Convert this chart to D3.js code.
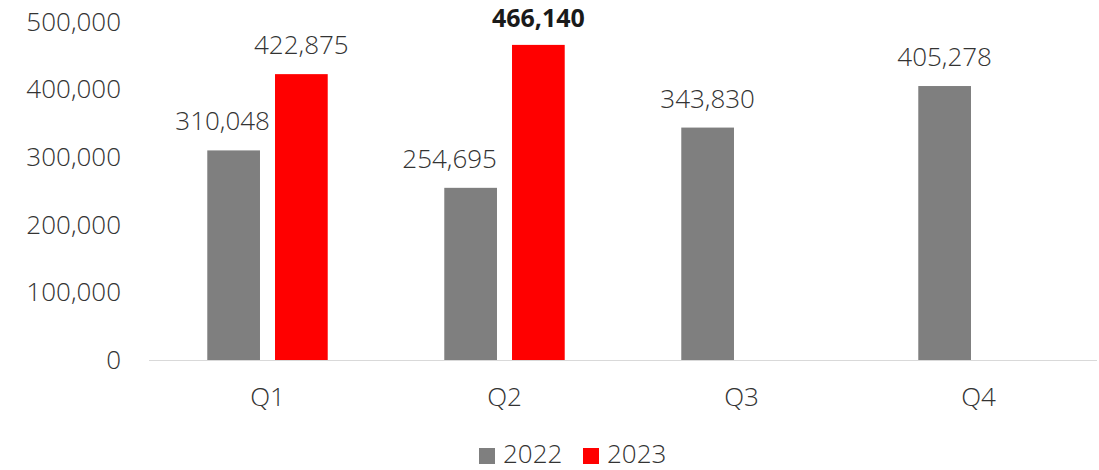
<!DOCTYPE html>
<html>
<head>
<meta charset="utf-8">
<script src="https://cdn.jsdelivr.net/npm/d3@7"></script>
<style>
  html, body { margin: 0; padding: 0; background: #fff; }
  svg { display: block; font-family: "Open Sans", "Segoe UI", sans-serif; }
</style>
</head>
<body>
<svg id="chart" width="1099" height="470"></svg>
<script>
// Quarterly totals by year
const quarters = ["Q1", "Q2", "Q3", "Q4"];
const years = ["2022", "2023"];
const values2022 = [310048, 254695, 343830, 405278];
const values2023 = [422875, 466140, null, null];
const yTicks = [0, 100000, 200000, 300000, 400000, 500000];
const seriesColors = ["#7f7f7f", "#ff0000"];

const series = [
  { year: years[0], values: values2022, color: seriesColors[0] },
  { year: years[1], values: values2023, color: seriesColors[1] }
];

const svg = d3.select("#chart");
const plot = { left: 149, right: 1097, top: 22, bottom: 360 };
const fontSize = "26px";
const fontWeight = 300;

const x = d3.scaleBand().domain(quarters).range([plot.left, plot.right]).padding(0);
const y = d3.scaleLinear().domain([0, 500000]).range([plot.bottom, plot.top]);

// Bars inside each quarter: two columns with a small gap, centred in the band
const barW = x.bandwidth() * 0.2224;
const gap = barW * 0.285;
const groupW = barW * 2 + gap;
const x1 = d3.scaleOrdinal().domain(years).range([0, barW + gap]);
const groupStart = q => x(q) + (x.bandwidth() - groupW) / 2;

const fmt = d3.format(",");
const textColor = "#333333";

// Y axis labels (no axis line, no ticks)
const yAxis = d3.axisLeft(y).tickValues(yTicks).tickFormat(fmt).tickSize(0).tickPadding(0);
const gy = svg.append("g").attr("transform", `translate(121,0)`).call(yAxis);
gy.select(".domain").remove();
gy.selectAll("text")
  .attr("fill", textColor)
  .style("font-size", fontSize)
  .style("font-weight", fontWeight)
  .style("font-family", "\"Open Sans\", sans-serif");

// Bars
const bars = [];
series.forEach(s => {
  quarters.forEach((q, i) => {
    if (s.values[i] != null) bars.push({ q, year: s.year, value: s.values[i], color: s.color });
  });
});

svg.append("g").selectAll("rect")
  .data(bars)
  .join("rect")
  .attr("x", d => groupStart(d.q) + x1(d.year))
  .attr("y", d => y(d.value))
  .attr("width", barW)
  .attr("height", d => y(0) - y(d.value))
  .attr("fill", d => d.color);

// Category baseline
svg.append("line")
  .attr("x1", plot.left).attr("x2", plot.right)
  .attr("y1", y(0) + 0.5).attr("y2", y(0) + 0.5)
  .attr("stroke", "#d9d9d9").attr("stroke-width", 1);

// X axis labels
const xAxis = d3.axisBottom(x).tickSize(0).tickPadding(0);
const gx = svg.append("g").attr("transform", `translate(0,${y(0) + 46})`).call(xAxis);
gx.select(".domain").remove();
gx.selectAll("text")
  .attr("fill", textColor)
  .attr("dy", "0")
  .style("font-size", fontSize)
  .style("font-weight", fontWeight)
  .style("font-family", "\"Open Sans\", sans-serif");

// Value labels above bars; the two Q-2022 labels sit slightly left to clear the neighbouring red bar
const labelNudge = { "Q1-2022": -11, "Q2-2022": -21 };
const maxValue = d3.max(bars, d => d.value);
const isMax = d => d.value === maxValue;
svg.append("g").selectAll("text")
  .data(bars)
  .join("text")
  .attr("x", d => groupStart(d.q) + x1(d.year) + barW / 2 + (labelNudge[d.q + "-" + d.year] || 0))
  .attr("y", d => y(d.value) - (isMax(d) ? 18 : 20))
  .attr("text-anchor", "middle")
  .attr("fill", d => isMax(d) ? "#1a1a1a" : textColor)
  .style("font-size", d => isMax(d) ? "25px" : fontSize)
  .style("font-weight", d => isMax(d) ? 700 : fontWeight)
  .text(d => fmt(d.value));

// Legend
const legend = svg.append("g");
const legendItems = [
  { label: years[0], color: seriesColors[0], x: 479 },
  { label: years[1], color: seriesColors[1], x: 583 }
];
legendItems.forEach(it => {
  legend.append("rect")
    .attr("x", it.x).attr("y", 448)
    .attr("width", 16).attr("height", 16)
    .attr("fill", it.color);
  legend.append("text")
    .attr("x", it.x + 24).attr("y", 463)
    .attr("fill", textColor)
    .style("font-size", fontSize)
    .style("font-weight", fontWeight)
    .text(it.label);
});
</script>
</body>
</html>
